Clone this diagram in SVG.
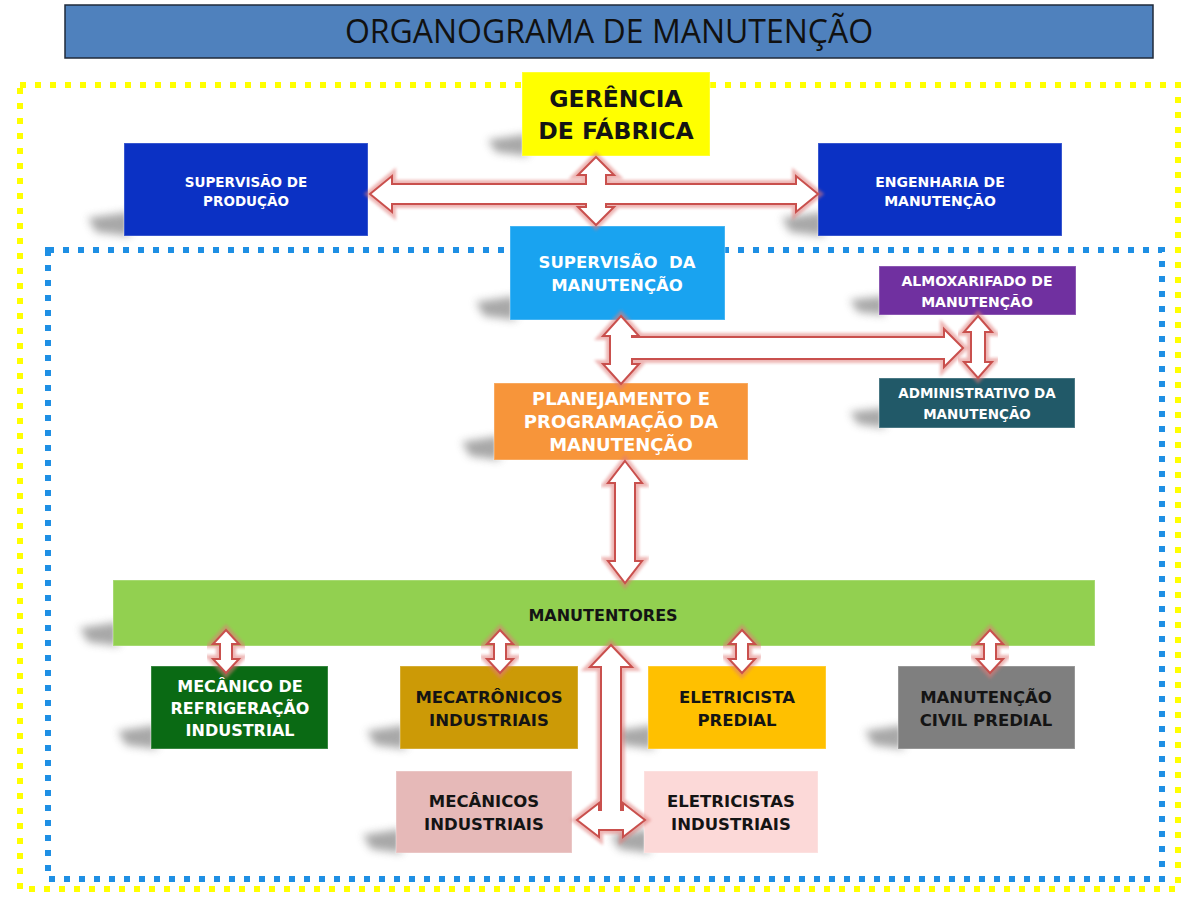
<svg xmlns="http://www.w3.org/2000/svg" width="1191" height="897" viewBox="0 0 1191 897">
<style>
.t{font-family:"DejaVu Sans","Liberation Sans",sans-serif;font-weight:bold;text-anchor:middle}
.w{fill:#ffffff}
.k{fill:#141414}
.box{stroke:#ffffff;stroke-opacity:.25;stroke-width:1.5}
.shadow{fill:#6e6e6e;opacity:.6;filter:url(#blur)}
.arrow{fill:#ffffff;stroke:#c9504d;stroke-width:2;stroke-linejoin:miter}
.glow{fill:none;stroke:#e07a78;stroke-width:8;opacity:.55;filter:url(#soft);stroke-linejoin:miter}
</style>
<defs>
<filter id="blur" x="-50%" y="-50%" width="200%" height="200%"><feGaussianBlur stdDeviation="4"/></filter>
<filter id="soft" x="-20%" y="-20%" width="140%" height="140%"><feGaussianBlur stdDeviation="1.6"/></filter>
<path id="small" d="M0,630 L13,644 L6,644 L6,659 L13,659 L0,673 L-13,659 L-6,659 L-6,644 L-13,644 Z"/>
</defs>
<rect width="1191" height="897" fill="#ffffff"/>

<g id="title">
<rect x="65" y="5" width="1088" height="53" fill="#4f81bd" stroke="#1f2a3a" stroke-width="1.5"/>
<text x="609" y="43" font-family="'Open Sans','Liberation Sans',sans-serif" font-size="32" fill="#111111" text-anchor="middle">ORGANOGRAMA DE MANUTENÇÃO</text>
</g>

<g id="frames">
<rect x="20" y="85" width="1158" height="804" fill="none" stroke="#ffff00" stroke-width="6" stroke-dasharray="6 9"/>
<rect x="48" y="250" width="1114" height="629" fill="none" stroke="#1e8fe4" stroke-width="6" stroke-dasharray="6 9"/>
</g>

<g id="shadows">
<path class="shadow" d="M130,212 L88,218 L96,232 L130,236 Z"/>
<path class="shadow" d="M824,212 L782,218 L790,232 L824,236 Z"/>
<path class="shadow" d="M528,134 L488,140 L496,152 L528,156 Z"/>
<path class="shadow" d="M516,296 L476,302 L484,316 L516,320 Z"/>
<path class="shadow" d="M885,296 L850,300 L858,312 L885,315 Z"/>
<path class="shadow" d="M885,408 L850,412 L858,424 L885,428 Z"/>
<path class="shadow" d="M500,436 L462,442 L470,456 L500,460 Z"/>
<path class="shadow" d="M119,622 L80,628 L88,642 L119,646 Z"/>
<path class="shadow" d="M157,725 L118,731 L126,745 L157,749 Z"/>
<path class="shadow" d="M406,725 L367,731 L375,745 L406,749 Z"/>
<path class="shadow" d="M654,725 L615,731 L623,745 L654,749 Z"/>
<path class="shadow" d="M904,725 L865,731 L873,745 L904,749 Z"/>
<path class="shadow" d="M402,829 L363,835 L371,849 L402,853 Z"/>
<path class="shadow" d="M650,829 L611,835 L619,849 L650,853 Z"/>
</g>

<g id="n-gerencia">
<rect class="box" x="522" y="72" width="188" height="84" fill="#ffff00"/>
<text class="t k" font-size="23.5" x="616" y="107">GERÊNCIA</text>
<text class="t k" font-size="23.5" x="616" y="139">DE FÁBRICA</text>
</g>

<g id="n-sup-producao">
<rect class="box" x="124" y="143" width="244" height="93" fill="#0b31c4"/>
<text class="t w" font-size="13.5" x="246" y="187">SUPERVISÃO DE</text>
<text class="t w" font-size="13.5" x="246" y="206">PRODUÇÃO</text>
</g>

<g id="n-engenharia">
<rect class="box" x="818" y="143" width="244" height="93" fill="#0b31c4"/>
<text class="t w" font-size="14" x="940" y="187">ENGENHARIA DE</text>
<text class="t w" font-size="14" x="940" y="206">MANUTENÇÃO</text>
</g>

<g id="n-sup-manutencao">
<rect class="box" x="510" y="226" width="215" height="94" fill="#19a3f0"/>
<text class="t w" font-size="16.5" x="617" y="268" xml:space="preserve">SUPERVISÃO  DA</text>
<text class="t w" font-size="16.5" x="617" y="291">MANUTENÇÃO</text>
</g>

<g id="n-almoxarifado">
<rect class="box" x="879" y="266" width="197" height="49" fill="#7030a0"/>
<text class="t w" font-size="14" x="977" y="286">ALMOXARIFADO DE</text>
<text class="t w" font-size="14" x="977" y="307">MANUTENÇÃO</text>
</g>

<g id="n-administrativo">
<rect class="box" x="879" y="378" width="196" height="50" fill="#215968"/>
<text class="t w" font-size="13.5" x="977" y="398">ADMINISTRATIVO DA</text>
<text class="t w" font-size="13.5" x="977" y="419">MANUTENÇÃO</text>
</g>

<g id="n-planejamento">
<rect class="box" x="494" y="383" width="254" height="77" fill="#f7953a"/>
<text class="t w" font-size="18" x="621" y="405">PLANEJAMENTO E</text>
<text class="t w" font-size="18" x="621" y="428">PROGRAMAÇÃO DA</text>
<text class="t w" font-size="18" x="621" y="451">MANUTENÇÃO</text>
</g>

<g id="n-manutentores">
<rect class="box" x="113" y="580" width="982" height="66" fill="#92d050"/>
<text class="t k" font-size="16" x="603" y="621">MANUTENTORES</text>
</g>

<g id="n-refrigeracao">
<rect class="box" x="151" y="666" width="177" height="83" fill="#0a6a14"/>
<text class="t w" font-size="16" x="240" y="692">MECÂNICO DE</text>
<text class="t w" font-size="16" x="240" y="714">REFRIGERAÇÃO</text>
<text class="t w" font-size="16" x="240" y="736">INDUSTRIAL</text>
</g>

<g id="n-mecatronicos">
<rect class="box" x="400" y="666" width="178" height="83" fill="#cc9a06"/>
<text class="t k" font-size="16.5" x="489" y="703">MECATRÔNICOS</text>
<text class="t k" font-size="16.5" x="489" y="726">INDUSTRIAIS</text>
</g>

<g id="n-eletricista-predial">
<rect class="box" x="648" y="666" width="178" height="83" fill="#ffc000"/>
<text class="t k" font-size="16.5" x="737" y="703">ELETRICISTA</text>
<text class="t k" font-size="16.5" x="737" y="726">PREDIAL</text>
</g>

<g id="n-civil">
<rect class="box" x="898" y="666" width="177" height="83" fill="#7f7f7f"/>
<text class="t k" font-size="16.5" x="986" y="703">MANUTENÇÃO</text>
<text class="t k" font-size="16.5" x="986" y="726">CIVIL PREDIAL</text>
</g>

<g id="n-mecanicos">
<rect class="box" x="396" y="771" width="176" height="82" fill="#e6b9b8"/>
<text class="t k" font-size="16.5" x="484" y="807">MECÂNICOS</text>
<text class="t k" font-size="16.5" x="484" y="830">INDUSTRIAIS</text>
</g>

<g id="n-eletricistas">
<rect class="box" x="644" y="771" width="174" height="82" fill="#fcd9d8"/>
<text class="t k" font-size="16.5" x="731" y="807">ELETRICISTAS</text>
<text class="t k" font-size="16.5" x="731" y="830">INDUSTRIAIS</text>
</g>

<g id="connectors">
<path class="glow" d="M596,157 L614,175 L606,175 L606,184 L796,184 L796,176 L818,194 L796,212 L796,204 L606,204 L606,207 L614,207 L596,225 L578,207 L586,207 L586,204 L392,204 L392,212 L370,194 L392,176 L392,184 L586,184 L586,175 L578,175 Z"/>
<path class="arrow" d="M596,157 L614,175 L606,175 L606,184 L796,184 L796,176 L818,194 L796,212 L796,204 L606,204 L606,207 L614,207 L596,225 L578,207 L586,207 L586,204 L392,204 L392,212 L370,194 L392,176 L392,184 L586,184 L586,175 L578,175 Z"/>

<path class="glow" d="M621,316 L639,336 L632,336 L632,337 L944,337 L944,329 L963,348 L944,367 L944,359 L632,359 L632,364 L639,364 L621,384 L603,364 L610,364 L610,336 L603,336 Z"/>
<path class="arrow" d="M621,316 L639,336 L632,336 L632,337 L944,337 L944,329 L963,348 L944,367 L944,359 L632,359 L632,364 L639,364 L621,384 L603,364 L610,364 L610,336 L603,336 Z"/>

<path class="glow" d="M978,316 L992,332 L985,332 L985,362 L992,362 L978,378 L964,362 L971,362 L971,332 L964,332 Z"/>
<path class="arrow" d="M978,316 L992,332 L985,332 L985,362 L992,362 L978,378 L964,362 L971,362 L971,332 L964,332 Z"/>

<path class="glow" d="M625,461 L642,483 L635,483 L635,561 L642,561 L625,583 L608,561 L615,561 L615,483 L608,483 Z"/>
<path class="arrow" d="M625,461 L642,483 L635,483 L635,561 L642,561 L625,583 L608,561 L615,561 L615,483 L608,483 Z"/>

<use href="#small" class="glow" x="226"/><use href="#small" class="arrow" x="226"/>
<use href="#small" class="glow" x="500"/><use href="#small" class="arrow" x="500"/>
<use href="#small" class="glow" x="742"/><use href="#small" class="arrow" x="742"/>
<use href="#small" class="glow" x="990"/><use href="#small" class="arrow" x="990"/>

<path class="glow" d="M611,645 L632,667 L621,667 L621,810 L623,810 L623,803 L645,820 L623,837 L623,830 L599,830 L599,837 L577,820 L599,803 L599,810 L601,810 L601,667 L590,667 Z"/>
<path class="arrow" d="M611,645 L632,667 L621,667 L621,810 L623,810 L623,803 L645,820 L623,837 L623,830 L599,830 L599,837 L577,820 L599,803 L599,810 L601,810 L601,667 L590,667 Z"/>
</g>
</svg>
